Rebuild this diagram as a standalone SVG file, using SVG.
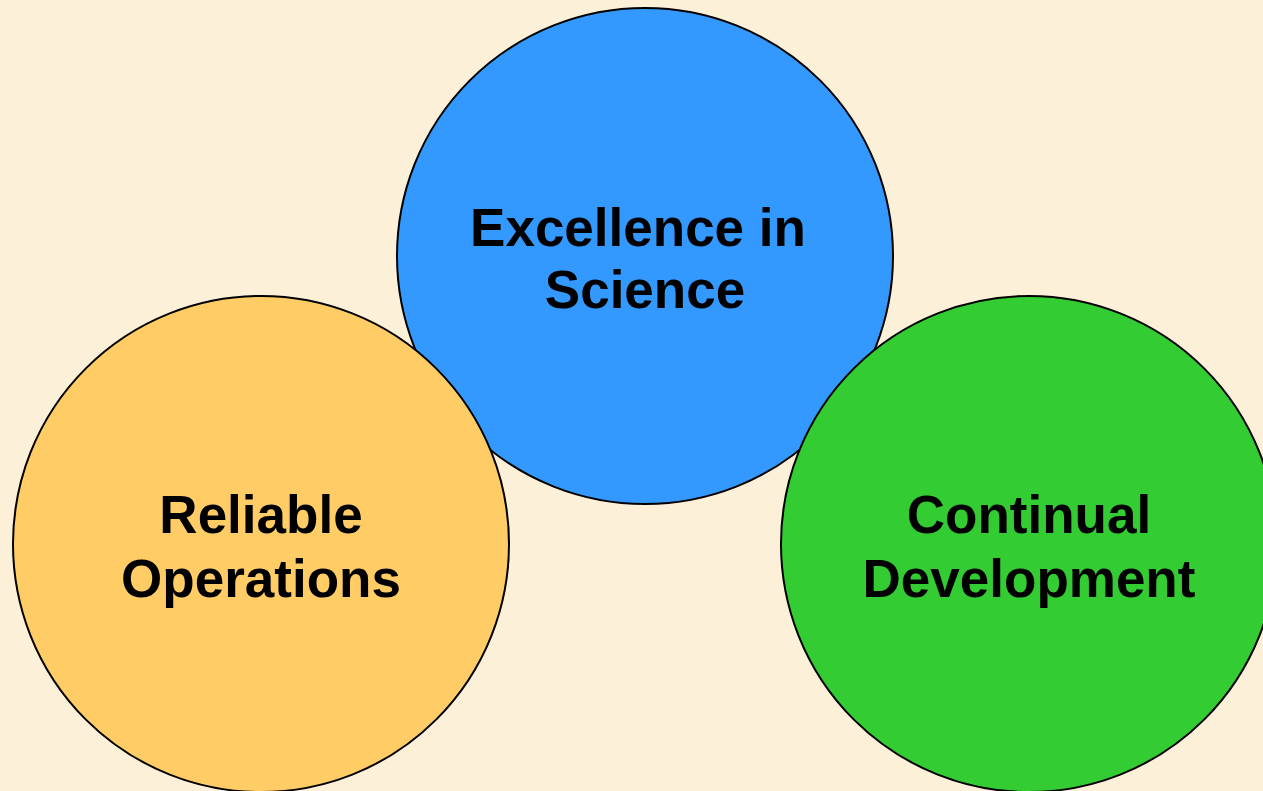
<svg xmlns="http://www.w3.org/2000/svg" width="1263" height="791" viewBox="0 0 1263 791">
<style>
.c{stroke:#000;stroke-width:2}
.t{font-family:"Liberation Sans",Arial,sans-serif;font-weight:bold;font-size:53px;fill:#000;text-anchor:middle}
</style>
<rect width="1263" height="791" fill="#FCF0D9"/>
<g id="excellence">
<circle class="c" cx="645" cy="256" r="248" fill="#3399FF"/>
<text class="t" x="638" y="246">Excellence in</text>
<text class="t" x="645" y="308">Science</text>
</g>
<g id="reliable">
<circle class="c" cx="261" cy="544" r="248" fill="#FFCC66"/>
<text class="t" x="261" y="533">Reliable</text>
<text class="t" x="261" y="597">Operations</text>
</g>
<g id="continual">
<circle class="c" cx="1029" cy="544" r="248" fill="#33CC33"/>
<text class="t" x="1029" y="533">Continual</text>
<text class="t" x="1029" y="597">Development</text>
</g>
<g id="connectors"/>
</svg>
